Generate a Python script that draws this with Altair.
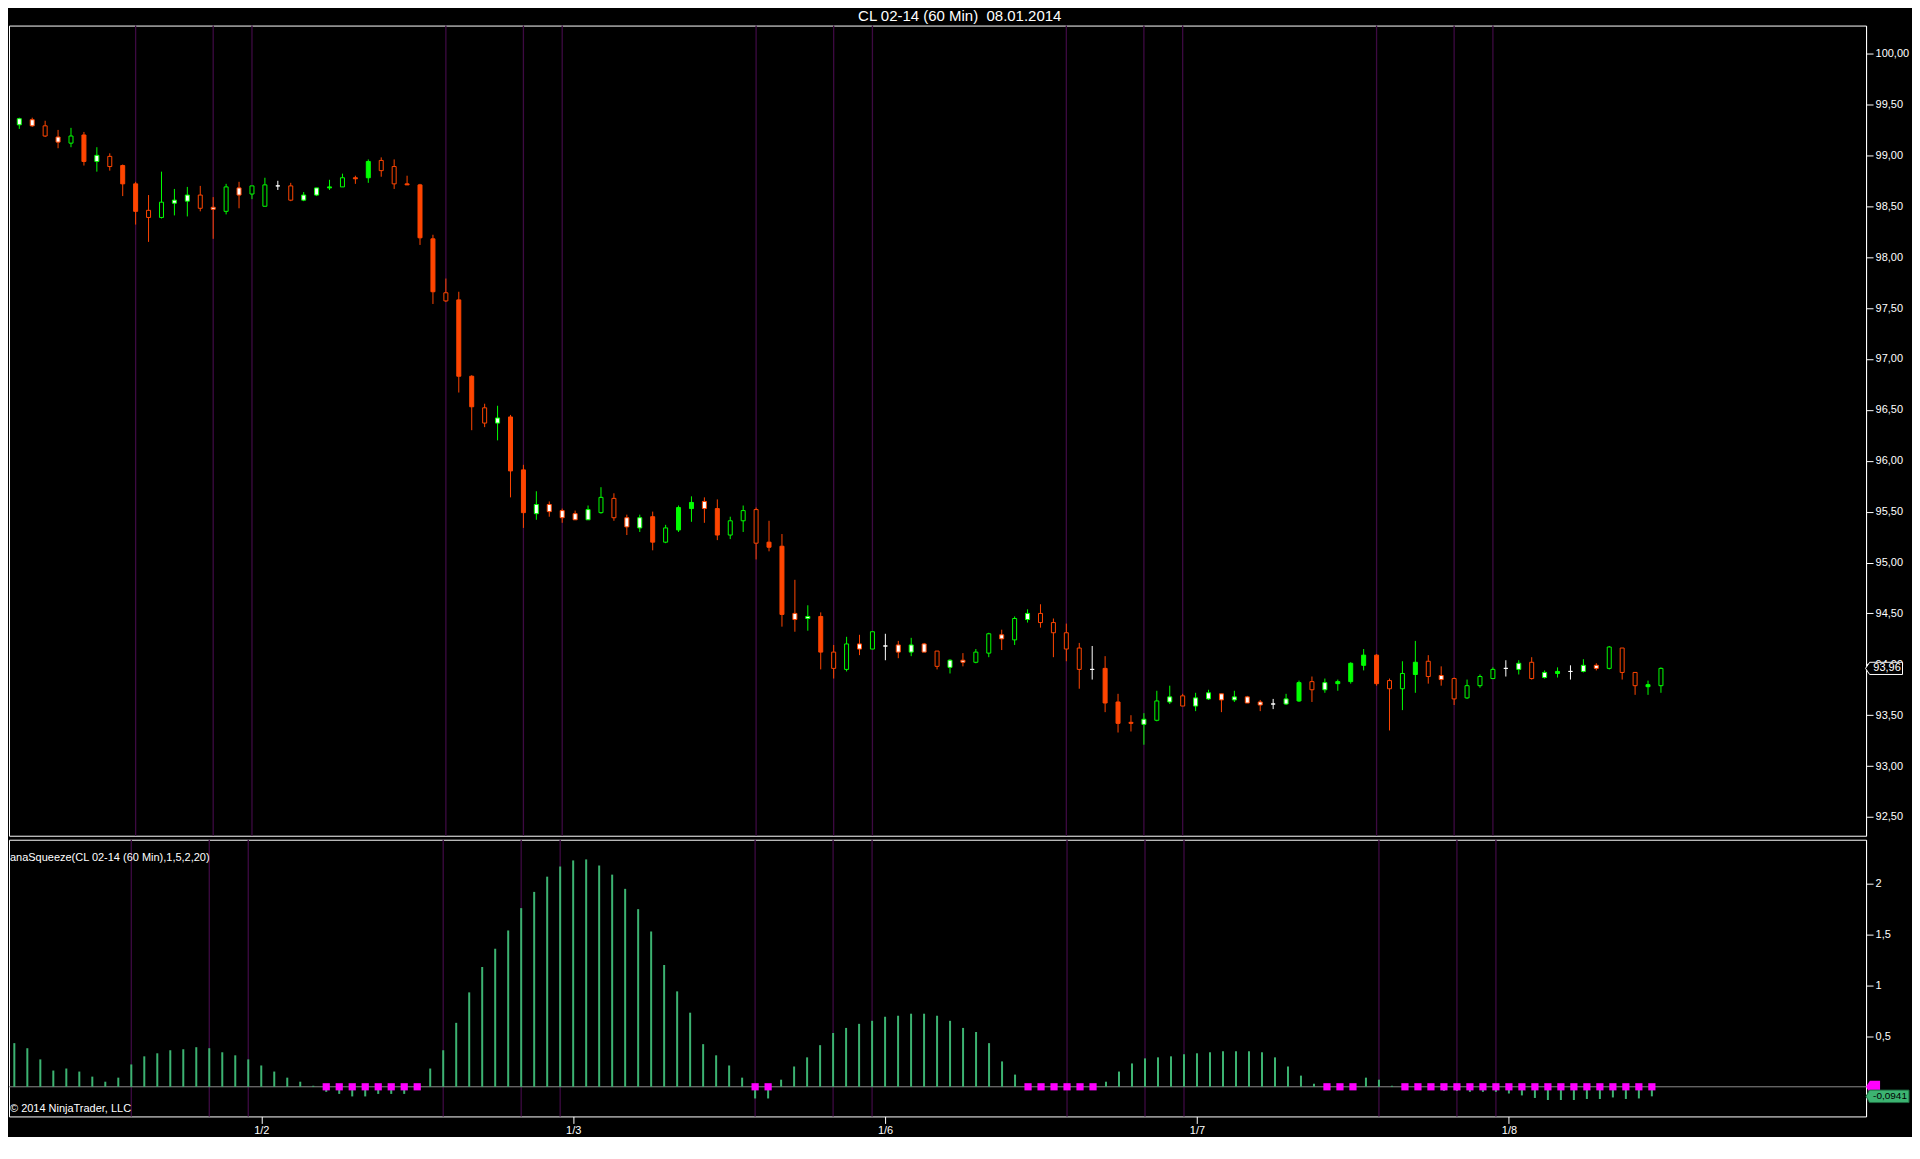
import altair as alt
import pandas as pd

TITLE = "CL 02-14 (60 Min)\u00a0 08.01.2014"
IND_LABEL = "anaSqueeze(CL 02-14 (60 Min),1,5,2,20)"
COPYRIGHT = "\u00a9 2014 NinjaTrader, LLC"

# ---- 60-minute candles (index order) ----
OPEN = [99.30, 99.35, 99.29, 99.18, 99.12, 99.20, 98.94, 98.99, 98.90, 98.72,
        98.46, 98.39, 98.53, 98.55, 98.61, 98.49, 98.45, 98.68, 98.62, 98.50,
        98.70, 98.70, 98.56, 98.61, 98.68, 98.69, 98.78, 98.78, 98.95, 98.89,
        98.72, 98.71, 98.18, 97.65, 97.58, 96.83, 96.52, 96.37, 96.43, 95.91,
        95.48, 95.57, 95.51, 95.48, 95.42, 95.49, 95.63, 95.44, 95.34, 95.45,
        95.20, 95.32, 95.53, 95.60, 95.53, 95.27, 95.41, 95.52, 95.20, 95.16,
        94.50, 94.45, 94.47, 94.12, 93.95, 94.20, 94.15, 94.18, 94.19, 94.12,
        94.20, 94.13, 93.97, 94.04, 94.02, 94.11, 94.29, 94.24, 94.44, 94.50,
        94.41, 94.31, 94.16, 93.95, 93.96, 93.63, 93.43, 93.41, 93.45, 93.63,
        93.69, 93.59, 93.66, 93.71, 93.65, 93.68, 93.63, 93.61, 93.61, 93.64,
        93.83, 93.75, 93.81, 93.83, 93.99, 94.09, 93.84, 93.76, 93.90, 94.03,
        93.89, 93.86, 93.67, 93.79, 93.86, 93.96, 93.95, 94.02, 93.87, 93.91,
        93.93, 93.93, 93.99, 93.96, 94.16, 93.92, 93.78, 93.79]
HIGH = [99.37, 99.37, 99.34, 99.25, 99.27, 99.23, 99.08, 99.02, 98.91, 98.74,
        98.61, 98.84, 98.67, 98.69, 98.70, 98.59, 98.72, 98.74, 98.70, 98.78,
        98.75, 98.73, 98.64, 98.68, 98.76, 98.82, 98.80, 98.96, 98.98, 98.96,
        98.80, 98.72, 98.22, 97.79, 97.66, 96.84, 96.56, 96.54, 96.45, 95.96,
        95.70, 95.60, 95.53, 95.51, 95.56, 95.74, 95.68, 95.47, 95.47, 95.50,
        95.37, 95.56, 95.65, 95.64, 95.62, 95.45, 95.56, 95.54, 95.41, 95.28,
        94.83, 94.58, 94.51, 94.19, 94.27, 94.29, 94.32, 94.30, 94.23, 94.26,
        94.21, 94.13, 94.05, 94.11, 94.15, 94.31, 94.34, 94.47, 94.54, 94.59,
        94.45, 94.40, 94.21, 94.18, 94.08, 93.71, 93.50, 93.52, 93.74, 93.79,
        93.71, 93.72, 93.75, 93.71, 93.74, 93.69, 93.65, 93.66, 93.71, 93.84,
        93.88, 93.86, 93.85, 94.02, 94.15, 94.10, 93.86, 94.03, 94.23, 94.09,
        93.98, 93.87, 93.85, 93.90, 93.97, 94.04, 94.04, 94.07, 93.94, 93.97,
        93.99, 94.05, 94.01, 94.18, 94.16, 93.92, 93.84, 93.97]
LOW = [99.26, 99.28, 99.18, 99.07, 99.08, 98.90, 98.84, 98.85, 98.60, 98.32,
       98.15, 98.38, 98.41, 98.40, 98.45, 98.18, 98.42, 98.48, 98.57, 98.50,
       98.66, 98.55, 98.55, 98.60, 98.66, 98.69, 98.72, 98.73, 98.79, 98.67,
       98.71, 98.12, 97.54, 97.56, 96.67, 96.30, 96.33, 96.20, 95.64, 95.34,
       95.42, 95.45, 95.39, 95.42, 95.42, 95.48, 95.41, 95.27, 95.30, 95.12,
       95.19, 95.30, 95.40, 95.39, 95.22, 95.23, 95.30, 95.03, 95.11, 94.37,
       94.32, 94.33, 93.95, 93.86, 93.93, 94.09, 94.15, 94.04, 94.06, 94.08,
       94.12, 93.95, 93.91, 93.98, 94.01, 94.07, 94.14, 94.19, 94.41, 94.36,
       94.07, 94.03, 93.76, 93.85, 93.53, 93.33, 93.34, 93.21, 93.44, 93.61,
       93.59, 93.54, 93.65, 93.53, 93.63, 93.62, 93.54, 93.56, 93.60, 93.63,
       93.63, 93.72, 93.74, 93.81, 93.94, 93.79, 93.35, 93.55, 93.72, 93.81,
       93.79, 93.60, 93.66, 93.77, 93.86, 93.88, 93.90, 93.85, 93.86, 93.87,
       93.85, 93.92, 93.94, 93.95, 93.85, 93.70, 93.70, 93.72]
CLOSE = [99.36, 99.29, 99.19, 99.13, 99.19, 98.94, 99.00, 98.89, 98.72, 98.45,
         98.39, 98.54, 98.56, 98.61, 98.48, 98.47, 98.69, 98.61, 98.70, 98.71,
         98.70, 98.56, 98.61, 98.68, 98.69, 98.78, 98.77, 98.94, 98.85, 98.72,
         98.71, 98.19, 97.66, 97.57, 96.83, 96.53, 96.37, 96.42, 95.90, 95.49,
         95.57, 95.50, 95.44, 95.42, 95.52, 95.64, 95.44, 95.35, 95.44, 95.20,
         95.34, 95.54, 95.59, 95.53, 95.27, 95.41, 95.51, 95.19, 95.15, 94.49,
         94.44, 94.47, 94.12, 93.96, 94.20, 94.15, 94.32, 94.18, 94.12, 94.19,
         94.12, 93.98, 94.04, 94.02, 94.12, 94.30, 94.25, 94.45, 94.50, 94.41,
         94.31, 94.15, 93.95, 93.95, 93.62, 93.42, 93.42, 93.46, 93.64, 93.68,
         93.59, 93.67, 93.72, 93.65, 93.68, 93.62, 93.60, 93.61, 93.66, 93.82,
         93.75, 93.82, 93.83, 94.01, 94.09, 93.81, 93.76, 93.91, 94.02, 93.88,
         93.85, 93.66, 93.79, 93.88, 93.95, 93.96, 94.01, 93.86, 93.92, 93.93,
         93.93, 93.99, 93.96, 94.17, 93.92, 93.79, 93.80, 93.96]
# paint style: O=down, G=up, X=doji; S=solid, H=hollow, W=white body
STYLE = ["GW", "OW", "OH", "OW", "GH", "OS", "GW", "OH", "OS", "OS",
         "OH", "GH", "GW", "GW", "OH", "OW", "GH", "OW", "GH", "GH",
         "X", "OH", "GW", "GW", "GS", "GH", "OS", "GS", "OH", "OH",
         "OS", "OS", "OS", "OH", "OS", "OS", "OH", "GW", "OS", "OS",
         "GW", "OW", "OW", "OW", "GW", "GH", "OH", "OW", "GW", "OS",
         "GH", "GS", "GS", "OW", "OS", "GH", "GH", "OH", "OS", "OS",
         "OW", "GW", "OS", "OH", "GH", "OW", "GH", "X", "OW", "GW",
         "OW", "OH", "GW", "OW", "GH", "GH", "OW", "GH", "GW", "OH",
         "OH", "OH", "OH", "X", "OS", "OS", "OS", "GW", "GH", "GW",
         "OH", "GW", "GW", "OW", "GW", "OW", "OW", "X", "GW", "GS",
         "OH", "GW", "GS", "GS", "GS", "OS", "OH", "GH", "GS", "OH",
         "OW", "OH", "GH", "GH", "GH", "X", "GW", "OH", "GW", "GS",
         "X", "GW", "OW", "GH", "OH", "OH", "GS", "GH"]

# ---- anaSqueeze histogram (last bar not yet calculated) ----
SQZ = [0.43, 0.38, 0.27, 0.16, 0.18, 0.15, 0.10, 0.05, 0.09, 0.22,
       0.30, 0.33, 0.36, 0.37, 0.39, 0.38, 0.34, 0.31, 0.27, 0.21,
       0.15, 0.09, 0.05, 0.01, -0.05, -0.07, -0.095, -0.095, -0.07, -0.07,
       -0.07, -0.03, 0.18, 0.36, 0.63, 0.93, 1.18, 1.36, 1.54, 1.76,
       1.92, 2.07, 2.17, 2.23, 2.24, 2.18, 2.09, 1.95, 1.75, 1.53,
       1.20, 0.94, 0.73, 0.42, 0.31, 0.21, 0.09, -0.115, -0.115, 0.07,
       0.20, 0.29, 0.41, 0.53, 0.58, 0.62, 0.65, 0.69, 0.70, 0.72,
       0.72, 0.70, 0.65, 0.58, 0.54, 0.43, 0.25, 0.12, -0.03, -0.01,
       -0.01, -0.03, -0.01, -0.01, 0.05, 0.15, 0.23, 0.28, 0.29, 0.30,
       0.32, 0.33, 0.34, 0.35, 0.35, 0.35, 0.34, 0.29, 0.20, 0.11,
       0.03, -0.01, -0.01, -0.005, 0.09, 0.07, 0.01, -0.03, -0.03, -0.03,
       -0.04, -0.04, -0.05, -0.05, -0.05, -0.066, -0.085, -0.11, -0.13, -0.13,
       -0.13, -0.12, -0.12, -0.105, -0.12, -0.115, -0.0941]
SQUEEZE_ON = [24, 25, 26, 27, 28, 29, 30, 31, 57, 58,
              78, 79, 80, 81, 82, 83, 101, 102, 103,
              107, 108, 109, 110, 111, 112, 113, 114, 115, 116, 117,
              118, 119, 120, 121, 122, 123, 124, 125, 126]
SESSION_LINES = [9, 15, 18, 33, 39, 42, 57, 63, 66, 81, 87, 90, 105, 111, 114]
DATE_TICKS = [19, 43, 67, 91, 115]
DATE_LABELS = ["1/2", "1/3", "1/6", "1/7", "1/8"]
PRICE_TICKS = [92.5, 93.0, 93.5, 94.0, 94.5, 95.0, 95.5, 96.0, 96.5, 97.0,
               97.5, 98.0, 98.5, 99.0, 99.5, 100.0]
IND_TICKS = [0.5, 1.0, 1.5, 2.0]
LAST_PRICE = 93.96
LAST_SQZ = -0.0941

# ---- styling ----
FONT = "Liberation Sans"
ORANGE = "#ff4500"
LIME = "#00ff00"
WHITE = "#ffffff"
BLACK = "#000000"
PURPLE = "#3d0a42"
HIST = "#3cb371"
MAGENTA = "#ff00ff"
W = 1859
H_PRICE = 811
H_IND = 277

xs = alt.Scale(domain=[-0.41, 142.48], nice=False, zero=False)
ys_price = alt.Scale(domain=[92.316, 100.275], nice=False, zero=False)
ys_ind = alt.Scale(domain=[-0.292, 2.434], nice=False, zero=False)

style_domain = ["OS", "OH", "OW", "GS", "GH", "GW", "X"]
stroke_scale = alt.Scale(domain=style_domain,
                         range=[ORANGE, ORANGE, ORANGE, LIME, LIME, LIME, WHITE])
fill_scale = alt.Scale(domain=style_domain,
                       range=[ORANGE, BLACK, WHITE, LIME, BLACK, WHITE, WHITE])

candles = pd.DataFrame({"i": list(range(len(OPEN))), "open": OPEN, "high": HIGH,
                        "low": LOW, "close": CLOSE, "style": STYLE})
sess = pd.DataFrame({"i": SESSION_LINES})
hist = pd.DataFrame({"i": list(range(len(SQZ))), "v": SQZ, "base": [0.0] * len(SQZ)})
sq = pd.DataFrame({"i": SQUEEZE_ON, "z": [0.0] * len(SQUEEZE_ON)})

label_js = "[" + ",".join("'%s'" % s for s in DATE_LABELS) + "][indexof([" + \
    ",".join(str(t) for t in DATE_TICKS) + "], datum.value)]"

axis_common = dict(labelFont=FONT, labelFontSize=11, labelColor=WHITE, tickColor=WHITE,
                   domainColor=WHITE, grid=False, title=None, tickSize=7, labelPadding=2)

# ---- price panel ----
p_lines = alt.Chart(sess).mark_rule(color=PURPLE, strokeWidth=1.3).encode(
    x=alt.X("i:Q", scale=xs, axis=None))

wicks = alt.Chart(candles).mark_rule(strokeWidth=1).encode(
    x=alt.X("i:Q", scale=xs, axis=None),
    y=alt.Y("low:Q", scale=ys_price,
            axis=alt.Axis(orient="right", values=PRICE_TICKS,
                          labelExpr="replace(format(datum.value, '.2f'), '.', ',')",
                          **axis_common)),
    y2="high:Q",
    color=alt.Color("style:N", scale=stroke_scale, legend=None))

bodies = alt.Chart(candles).mark_bar(size=4, strokeWidth=1).encode(
    x=alt.X("i:Q", scale=xs, axis=None),
    y=alt.Y("open:Q", scale=ys_price),
    y2="close:Q",
    fill=alt.Fill("style:N", scale=fill_scale, legend=None),
    stroke=alt.Stroke("style:N", scale=stroke_scale, legend=None))

ptag_df = pd.DataFrame({"p": [LAST_PRICE], "t": [f"{LAST_PRICE:.2f}".replace(".", ",")]})
ptag = alt.Chart(ptag_df).mark_point(
    shape="M-1,0L-0.78,-0.33L1,-0.33L1,0.33L-0.78,0.33Z", size=1369, filled=True,
    fill=BLACK, stroke=WHITE, strokeWidth=1, opacity=1).encode(
    x=alt.value(W + 18), y=alt.Y("p:Q", scale=ys_price))
ptag_txt = alt.Chart(ptag_df).mark_text(font=FONT, fontSize=11, color=WHITE,
                                         align="center", baseline="middle").encode(
    x=alt.value(W + 21), y=alt.Y("p:Q", scale=ys_price), text="t:N")

price = alt.layer(p_lines, wicks, bodies, ptag, ptag_txt).properties(width=W, height=H_PRICE)

# ---- indicator panel ----
x_ind_axis = alt.Axis(orient="bottom", values=DATE_TICKS, labelExpr=label_js,
                      domain=False, labelFont=FONT, labelFontSize=11, labelColor=WHITE,
                      tickColor=WHITE, grid=False, title=None, tickSize=7, labelPadding=1)
i_lines = alt.Chart(sess).mark_rule(color=PURPLE, strokeWidth=1.3).encode(
    x=alt.X("i:Q", scale=xs, axis=x_ind_axis))
zero = alt.Chart(pd.DataFrame({"z": [0.0]})).mark_rule(color="#8c8c8c", strokeWidth=1).encode(
    y=alt.Y("z:Q", scale=ys_ind,
            axis=alt.Axis(orient="right", values=IND_TICKS,
                          labelExpr="replace(toString(datum.value), '.', ',')",
                          **axis_common)))
bars = alt.Chart(hist).mark_rule(color=HIST, strokeWidth=2).encode(
    x=alt.X("i:Q", scale=xs, axis=x_ind_axis),
    y=alt.Y("v:Q", scale=ys_ind),
    y2="base:Q")
dots = alt.Chart(sq).mark_point(shape="square", filled=True, size=52, color=MAGENTA,
                                opacity=1).encode(
    x=alt.X("i:Q", scale=xs, axis=x_ind_axis), y=alt.Y("z:Q", scale=ys_ind))

ind_txt = alt.Chart(pd.DataFrame({"t": [IND_LABEL]})).mark_text(
    font=FONT, fontSize=11, color=WHITE, align="left", baseline="middle").encode(
    x=alt.value(1), y=alt.value(18), text="t:N")
copy_txt = alt.Chart(pd.DataFrame({"t": [COPYRIGHT]})).mark_text(
    font=FONT, fontSize=11, color=WHITE, align="left", baseline="middle").encode(
    x=alt.value(1), y=alt.value(H_IND - 7), text="t:N")

mtag = alt.Chart(pd.DataFrame({"z": [0.0]})).mark_point(
    shape="M-1,0L-0.45,-0.85L1,-0.85L1,0.85L-0.45,0.85Z", size=196, filled=True,
    color=MAGENTA, opacity=1).encode(x=alt.value(W + 7), y=alt.Y("z:Q", scale=ys_ind))
gtag_df = pd.DataFrame({"v": [LAST_SQZ], "t": [f"{LAST_SQZ:.4f}".replace(".", ",")]})
gtag = alt.Chart(gtag_df).mark_point(
    shape="M-1,0L-0.84,-0.29L1,-0.29L1,0.29L-0.84,0.29Z", size=1849, filled=True,
    fill=HIST, stroke="#1e6b40", strokeWidth=1, opacity=1).encode(
    x=alt.value(W + 21.5), y=alt.Y("v:Q", scale=ys_ind))
gtag_txt = alt.Chart(gtag_df).mark_text(font=FONT, fontSize=10, color=BLACK,
                                         align="center", baseline="middle").encode(
    x=alt.value(W + 24), y=alt.Y("v:Q", scale=ys_ind), text="t:N")

ind = alt.layer(i_lines, zero, bars, dots, ind_txt, copy_txt, mtag, gtag, gtag_txt).properties(
    width=W, height=H_IND)

chart = alt.vconcat(price, ind, spacing=0).resolve_scale(y="independent").properties(
    title=alt.TitleParams(TITLE, color=WHITE, fontSize=15, font=FONT, fontWeight="normal",
                          anchor="middle", offset=0),
    padding=0, background=BLACK
).configure_view(stroke=WHITE, strokeWidth=1)

chart.save("out.html", embed_options={"renderer": "svg", "actions": False})
